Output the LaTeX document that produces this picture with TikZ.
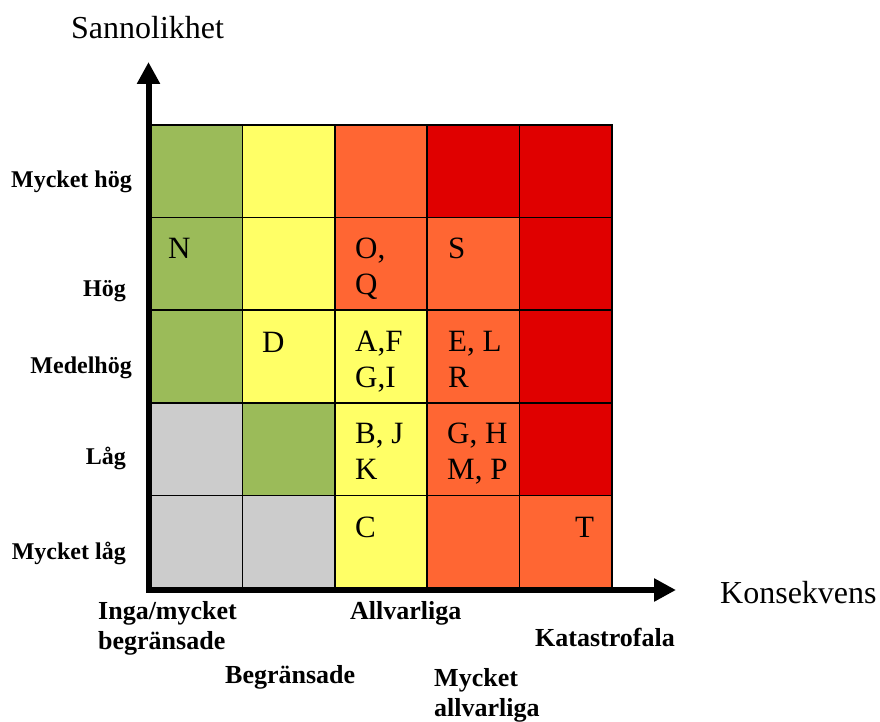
\documentclass[tikz,border=0pt]{standalone}
\usepackage{fontspec}
\setmainfont{Liberation Serif}
\usepackage{tikz}
\usetikzlibrary{positioning,arrows.meta}
\definecolor{riskgreen}{RGB}{155,187,89}
\definecolor{riskyellow}{RGB}{255,255,102}
\definecolor{riskorange}{RGB}{255,102,51}
\definecolor{riskred}{RGB}{224,0,0}
\definecolor{riskgray}{RGB}{204,204,204}

\begin{document}
\begin{tikzpicture}[x=1pt, y=-1pt,
  cell/.style = {anchor=north west, inner sep=0pt, outer sep=0pt,
    minimum width=92.4pt, minimum height=92.6pt},
  cellborder/.style = {draw, line width=1.7pt},
  letters/.style = {anchor=base west, inner sep=0pt, align=left, font=\fontsize{31}{36}\selectfont},
  likely/.style = {anchor=east, inner sep=0pt, font=\bfseries\fontsize{24}{30}\selectfont},
  conseq/.style = {anchor=north west, inner sep=0pt, align=left, font=\bfseries\fontsize{26}{30}\selectfont},
  axislabel/.style = {anchor=west, inner sep=0pt, font=\fontsize{32}{36}\selectfont}
]
\useasboundingbox (0,0) rectangle (880,722);
\foreach \row/\colors in {1/{riskgreen,riskyellow,riskorange,riskred,riskred},
    2/{riskgreen,riskyellow,riskorange,riskorange,riskred},
    3/{riskgreen,riskyellow,riskyellow,riskorange,riskred},
    4/{riskgray,riskgreen,riskyellow,riskorange,riskred},
    5/{riskgray,riskgray,riskyellow,riskorange,riskorange}}
  \foreach \c [count=\col] in \colors
    \node[cell, fill=\c] (c\row\col) at ({150+(\col-1)*92.4}, {125+(\row-1)*92.6}) {};
\foreach \row in {1,...,5}
  \foreach \col in {1,...,5}
    \draw[cellborder] (c\row\col.north west) rectangle (c\row\col.south east);

\node[letters] (tN) at (168,258) {N};
\node[letters] (tOQ) at (355,294) {O,\\Q};
\node[letters] (tS) at (448,258) {S};
\node[letters] (tD) at (262,352) {D};
\node[letters] (tAFGI) at (355,387) {A,F\\G,I};
\node[letters] (tELR) at (448,387) {E, L\\R};
\node[letters] (tBJK) at (355,479) {B, J\\K};
\node[letters] (tGHMP) at (447,479) {G, H\\M, P};
\node[letters] (tC) at (355,537) {C};
\node[letters] (tT) at (575,537) {T};

\node[likely] (vhigh) at (132,181.7) {Mycket hög};
\node[likely] (high) at (126,291) {Hög};
\node[likely] (mhigh) at (132,368) {Medelhög};
\node[likely] (low) at (126,458) {Låg};
\node[likely] (vlow) at (126,553) {Mycket låg};

\node[conseq] (none) at (98,601) {Inga/mycket\\begränsade};
\node[conseq, anchor=west] (limited) at (225,677.5) {Begränsade};
\node[conseq, anchor=west] (serious) at (350,613) {Allvarliga};
\node[conseq, anchor=west] (disaster) at (535,637) {Katastrofala};
\node[conseq] (vserious) at (434,668) {Mycket\\allvarliga};

\coordinate (origin) at (148.5,590);
\coordinate (ytip) at (148.5,62);
\coordinate (xtip) at (676,590);
\draw[line width=6pt, {Triangle[width=22pt,length=22pt]}-{Triangle[width=22pt,length=22pt]}]
  (ytip) -- (origin) -- (xtip);
\node[axislabel] (yname) at (71,28) {Sannolikhet};
\node[axislabel] (xname) at (720,593) {Konsekvens};
\end{tikzpicture}
\end{document}
